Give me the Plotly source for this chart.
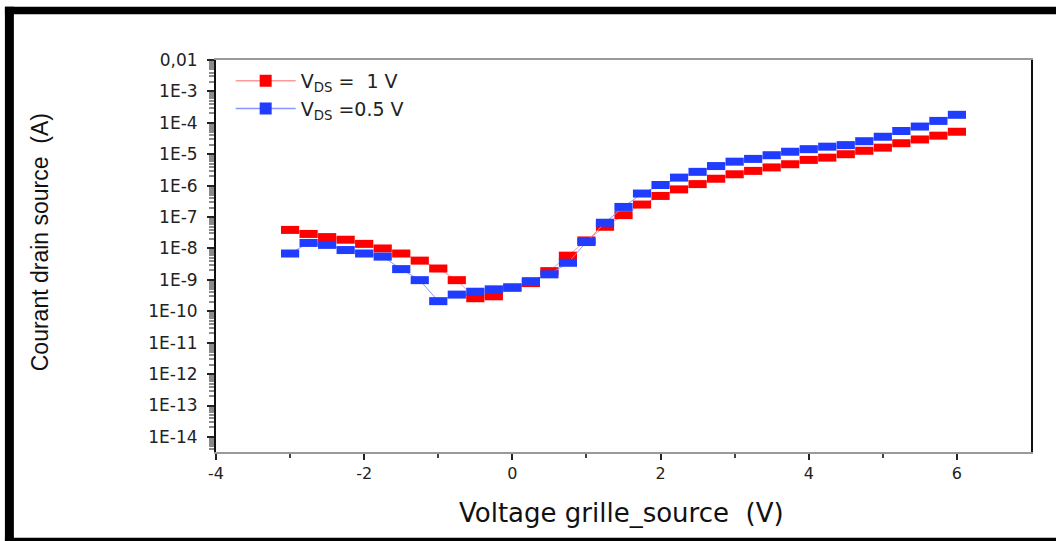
import plotly.graph_objects as go

# gate-source voltage sweep, -3 V .. 6 V in 0.25 V steps
vgs = [-3.0, -2.75, -2.5, -2.25, -2.0, -1.75, -1.5, -1.25, -1.0, -0.75, -0.5, -0.25,
       0.0, 0.25, 0.5, 0.75, 1.0, 1.25, 1.5, 1.75, 2.0, 2.25, 2.5, 2.75, 3.0, 3.25,
       3.5, 3.75, 4.0, 4.25, 4.5, 4.75, 5.0, 5.25, 5.5, 5.75, 6.0]

# drain-source current (A)
ids_1v = [3.9e-8, 2.9e-8, 2.3e-8, 1.9e-8, 1.4e-8, 1.0e-8, 6.9e-9, 4.1e-9, 2.3e-9, 9.8e-10,
          2.6e-10, 3.0e-10, 5.6e-10, 7.9e-10, 1.9e-9, 5.9e-9, 1.8e-8, 4.9e-8, 1.15e-7,
          2.5e-7, 4.7e-7, 7.6e-7, 1.12e-6, 1.66e-6, 2.3e-6, 2.95e-6, 3.8e-6, 4.8e-6,
          6.6e-6, 7.8e-6, 1.0e-5, 1.29e-5, 1.62e-5, 2.24e-5, 2.95e-5, 3.9e-5, 5.2e-5]
ids_05v = [6.9e-9, 1.5e-8, 1.3e-8, 8.9e-9, 6.9e-9, 5.5e-9, 2.2e-9, 9.8e-10, 2.1e-10,
           3.4e-10, 4.2e-10, 5.0e-10, 5.8e-10, 9.1e-10, 1.5e-9, 3.5e-9, 1.6e-8, 6.6e-8,
           2.1e-7, 5.6e-7, 1.05e-6, 1.8e-6, 2.75e-6, 4.2e-6, 5.8e-6, 7.1e-6, 9.3e-6,
           1.2e-5, 1.45e-5, 1.74e-5, 1.95e-5, 2.6e-5, 3.6e-5, 5.5e-5, 7.6e-5, 1.15e-4, 1.8e-4]

xtick_vals = [-4, -2, 0, 2, 4, 6]
xtick_text = ["-4", "-2", "0", "2", "4", "6"]
ytick_vals = [1e-14, 1e-13, 1e-12, 1e-11, 1e-10, 1e-9, 1e-8, 1e-7, 1e-6, 1e-5, 1e-4, 1e-3, 1e-2]
ytick_text = ["1E-14", "1E-13", "1E-12", "1E-11", "1E-10", "1E-9", "1E-8", "1E-7",
              "1E-6", "1E-5", "1E-4", "1E-3", "0,01"]

NB = "\u00a0"
series = [
    ("V<sub>DS</sub> =" + NB * 2 + "1 V", ids_1v, "#ff0000", "#ff9a9a"),
    ("V<sub>DS</sub> =0.5 V", ids_05v, "#1f3cff", "#8a96ff"),
]

fig = go.Figure()
for name, ys, col, lcol in series:
    # flat rectangles: a horizontal line marker with a thick stroke
    fig.add_trace(go.Scatter(
        x=vgs, y=ys, mode="lines+markers", showlegend=False,
        line=dict(color=lcol, width=1),
        marker=dict(symbol="line-ew", size=13, line=dict(color=col, width=8)),
    ))
for name, ys, col, lcol in series:
    fig.add_trace(go.Scatter(
        x=[None], y=[None], mode="lines+markers", name=name,
        line=dict(color=lcol, width=1.5),
        marker=dict(symbol="square", size=12, color=col, line=dict(width=0)),
    ))

fig.update_xaxes(
    range=[-4, 7], tickvals=xtick_vals, ticktext=xtick_text, ticks="outside", ticklen=6,
    tickcolor="#222", tickwidth=1.5,
    minor=dict(tickvals=[-3, -1, 1, 3, 5], ticks="outside", ticklen=4, tickcolor="#444"),
    showline=True, linecolor="#9a9a9a", linewidth=2, mirror=True,
    showgrid=False, zeroline=False,
    tickfont=dict(family="DejaVu Sans", size=16, color="#222"),
)
fig.update_yaxes(
    type="log", range=[-14.48, -2], tickvals=ytick_vals, ticktext=ytick_text,
    ticks="outside", ticklen=7, tickcolor="#222", tickwidth=1.5,
    minor=dict(ticks="outside", ticklen=5, tickcolor="#8a8a8a", dtick="D1"),
    showline=True, linecolor="#111", linewidth=2, mirror=True,
    showgrid=False, zeroline=False, ticklabelstandoff=6,
    tickfont=dict(family="DejaVu Sans", size=17, color="#222"),
)

fig.update_layout(
    width=1056, height=541,
    margin=dict(l=216, r=25, t=60, b=89),
    paper_bgcolor="white", plot_bgcolor="white",
    legend=dict(x=0.018, y=0.995, xanchor="left", yanchor="top",
                bgcolor="rgba(0,0,0,0)", font=dict(family="DejaVu Sans", size=19, color="#222"),
                itemwidth=60, tracegroupgap=0),
    annotations=[
        dict(text="Courant drain source  (A)", xref="paper", yref="paper",
             x=-0.216, y=0.535, textangle=-90, showarrow=False,
             xanchor="center", yanchor="middle",
             font=dict(family="Liberation Sans", size=23, color="#111")),
        dict(text="Voltage grille_source  (V)", xref="paper", yref="paper",
             x=0.497, y=-0.156, showarrow=False, xanchor="center", yanchor="middle",
             font=dict(family="DejaVu Sans", size=26, color="#111")),
    ],
    shapes=[
        # black frame around the picture
        dict(type="rect", xref="paper", yref="paper", x0=-0.259, x1=-0.248, y0=-0.23, y1=1.136,
             fillcolor="black", line_width=0),
        dict(type="rect", xref="paper", yref="paper", x0=-0.259, x1=1.04, y0=1.117, y1=1.136,
             fillcolor="black", line_width=0),
        dict(type="rect", xref="paper", yref="paper", x0=-0.259, x1=1.04, y0=-0.23, y1=-0.219,
             fillcolor="black", line_width=0),
    ],
)

fig.write_html("out.html", config={"displayModeBar": False},
               post_script="document.body.style.margin = '0';")
